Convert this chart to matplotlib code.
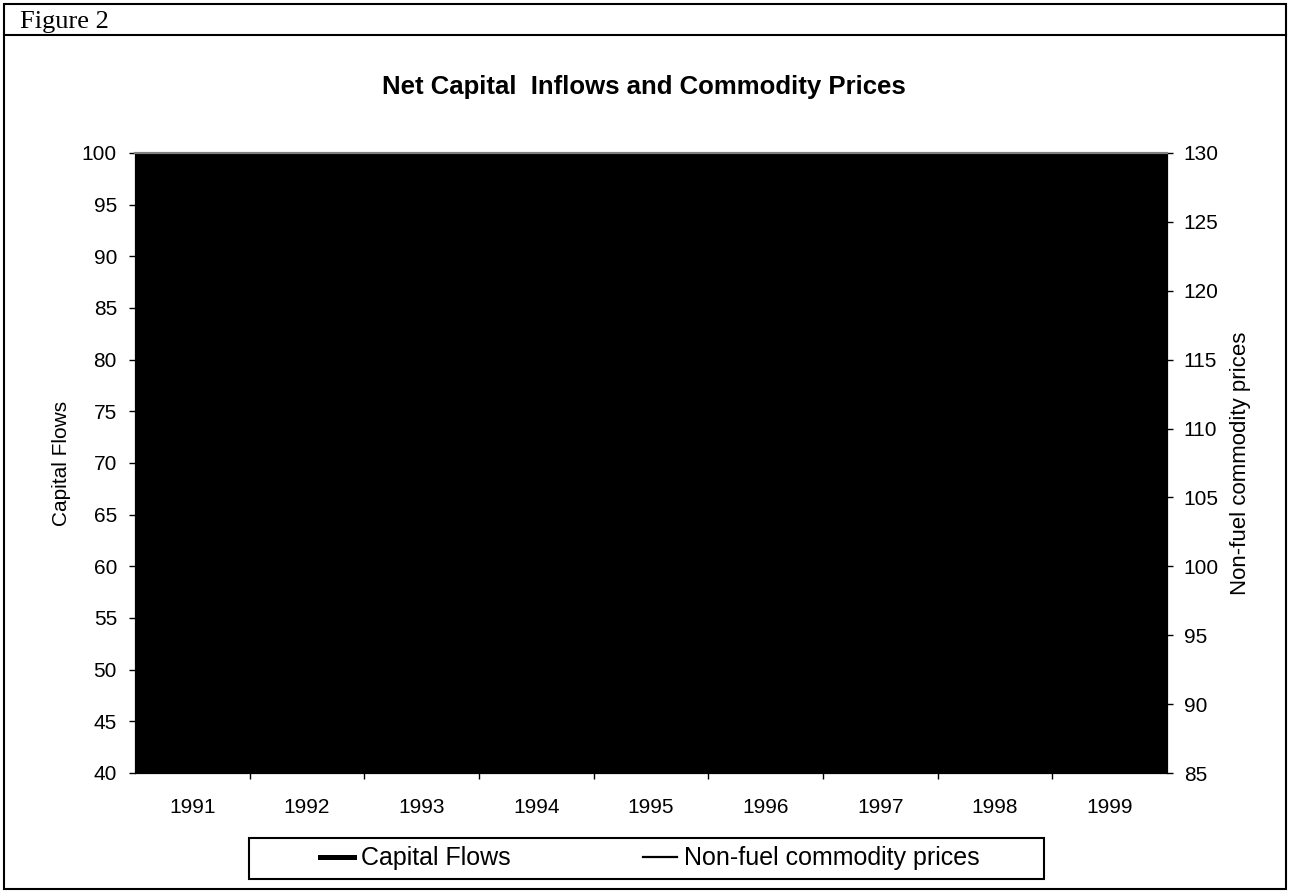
import matplotlib
matplotlib.use("Agg")
import matplotlib.pyplot as plt
from matplotlib.lines import Line2D
from matplotlib.patches import Rectangle
import numpy as np

plt.rcParams['font.family'] = ['Liberation Sans', 'DejaVu Sans']

years = ["1991", "1992", "1993", "1994", "1995", "1996", "1997", "1998", "1999"]
# series are drawn in black on a black plot area, so values are estimates
capital_flows = [57, 68, 82, 88, 96, 99, 88, 70, 63]
commodity_prices = [100, 97, 96, 108, 117, 116, 113, 97, 90]

W, H = 1290, 893
fig = plt.figure(figsize=(W / 100, H / 100), dpi=100)
ax = fig.add_axes([135 / W, 1 - 773 / H, (1167 - 135) / W, (773 - 153) / H])
ax2 = ax.twinx()

x = np.arange(len(years))
ax.set_facecolor("black")
ax.plot(x, capital_flows, color="black", lw=4)
ax2.plot(x, commodity_prices, color="black", lw=1.5)

ax.set_xlim(-0.5, len(years) - 0.5)
ax.set_ylim(40, 100)
ax2.set_ylim(85, 130)
ax.set_yticks(np.arange(40, 101, 5))
ax2.set_yticks(np.arange(85, 131, 5))
ax.set_xticks(x)
ax.set_xticklabels(years)
ax.set_xticks(np.arange(0.5, len(years) - 1, 1), minor=True)
ax.tick_params(axis="x", which="major", length=0, pad=18, labelsize=15)
ax.tick_params(axis="x", which="minor", length=4.5, width=1, direction="out")
ax.tick_params(axis="y", length=4, width=1, direction="out", labelsize=15, pad=9)
ax2.tick_params(axis="y", length=4, width=1, direction="out", labelsize=15, pad=8)

for a in (ax, ax2):
    a.spines["top"].set_color("#808080")
    a.spines["top"].set_linewidth(1.5)
    for s in ("left", "right", "bottom"):
        a.spines[s].set_color("black")

ax.set_ylabel("Capital Flows", fontsize=15)
ax2.set_ylabel("Non-fuel commodity prices", fontsize=16, rotation=90)
ax.yaxis.set_label_coords((71 - 135) / 1032, 0.5)
ax2.yaxis.set_label_coords((1230 - 135) / 1032, 0.5)

fig.text(644 / W, 1 - 94 / H, "Net Capital  Inflows and Commodity Prices",
         ha="center", va="baseline", fontsize=18.5, fontweight="bold")
fig.text(20 / W, 1 - 28 / H, "Figure 2", ha="left", va="baseline",
         fontsize=19, family="Liberation Serif")

# outer frame and header rule
fig.add_artist(Rectangle((4 / W, 4 / H), (W - 8) / W, (H - 8) / H,
                         transform=fig.transFigure, fill=False,
                         edgecolor="black", lw=1.5))
fig.add_artist(Line2D([4 / W, (W - 4) / W], [1 - 35 / H, 1 - 35 / H],
                      transform=fig.transFigure, color="black", lw=1.5))

# legend box
fig.add_artist(Rectangle((249 / W, 1 - 879 / H), (1044 - 249) / W, 41 / H,
                         transform=fig.transFigure, fill=False,
                         edgecolor="black", lw=1.5))
handles = [Line2D([], [], color="black", lw=3.6),
           Line2D([], [], color="black", lw=1.6)]
fig.legend(handles, ["Capital Flows", "Non-fuel commodity prices"],
           loc="center", bbox_to_anchor=(649.5 / W, 1 - 858.5 / H),
           ncol=2, fontsize=18, frameon=False, borderpad=0,
           handlelength=1.36, handletextpad=0.28, columnspacing=5.28)

fig.savefig("out.png", dpi=100, facecolor="white")
